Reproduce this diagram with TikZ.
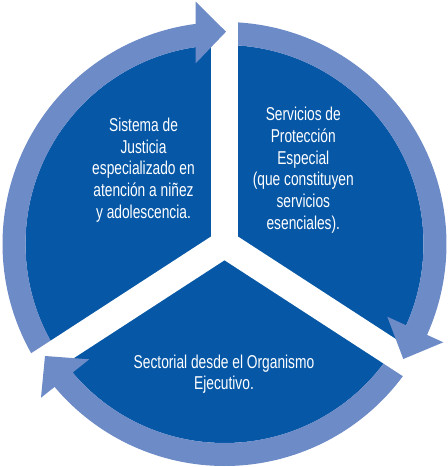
\documentclass[tikz,border=0pt]{standalone}
\usepackage{fontspec}
\setmainfont{Liberation Sans}[FakeStretch=0.74]
\definecolor{darkblue}{RGB}{6,87,166}
\definecolor{ringblue}{RGB}{109,139,199}
\tikzset{
  sector/.style={fill=darkblue},
  gapband/.style={fill=white},
  ringpart/.style={fill=ringblue},
  lbl/.style={text=white, align=center, inner sep=0pt, font=\fontsize{18.6}{21.8}\selectfont}
}
\begin{document}
\begin{tikzpicture}[x=1pt,y=1pt]
\useasboundingbox (-224.5,-223) rectangle (223.5,244);
\coordinate (C) at (0,0);
% dark pie
\fill[sector] (C) circle[radius=199];
% ring arcs (arrow bodies)
\fill[ringpart] (212:222) arc[start angle=212, end angle=97, radius=222] -- (97:199) arc[start angle=97, end angle=212, radius=199] -- cycle;
\fill[ringpart] (90:222) arc[start angle=90, end angle=-25, radius=222] -- (-25:199) arc[start angle=-25, end angle=90, radius=199] -- cycle;
\fill[ringpart] (-33:222) arc[start angle=-33, end angle=-141, radius=222] -- (-141:199) arc[start angle=-141, end angle=-33, radius=199] -- cycle;
% white gaps
\foreach \a in {90,-33,213} \fill[gapband, rotate=\a] (0,-13.6) rectangle (232,13.6);
\fill[gapband] (C) circle[radius=13];
% arrow heads
\fill[ringpart] (1.5,212.3) -- (-28.8,242.3) -- (-28.8,180.7) -- cycle;
\fill[ringpart] (178.8,-115) -- (162.8,-72.7) -- (218.8,-98.3) -- cycle;
\fill[ringpart] (-179.5,-112) -- (-183.5,-153.7) -- (-135.2,-115.3) -- cycle;
% labels
\node[lbl] (sistema) at (-81,74) {Sistema de\\Justicia\\especializado en\\atención a niñez\\y adolescencia.};
\node[lbl] (servicios) at (78.8,73.8) {Servicios de\\Protección\\Especial\\(que constituyen\\servicios\\esenciales).};
\node[lbl] (sectorial) at (-0.5,-130.2) {Sectorial desde el Organismo\\Ejecutivo.};
\end{tikzpicture}
\end{document}
